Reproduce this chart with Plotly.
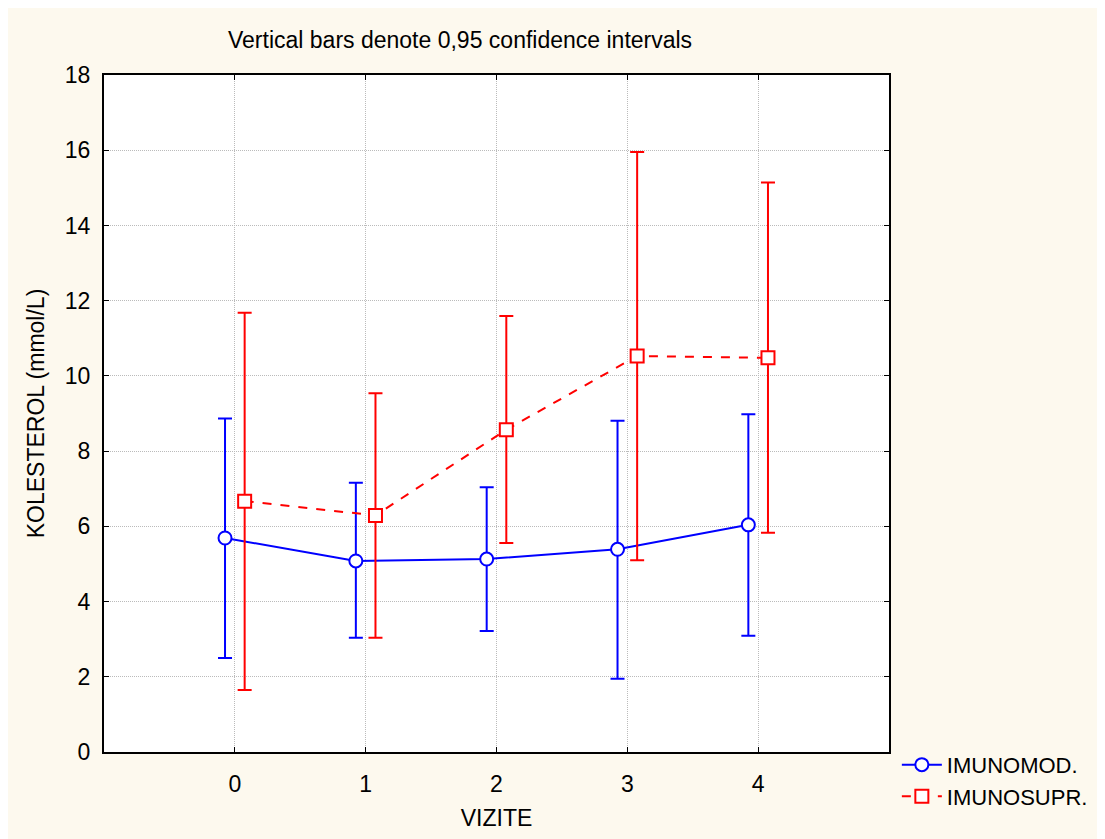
import plotly.graph_objects as go

visits = [0, 1, 2, 3, 4]
tick_labels = ["0", "1", "2", "3", "4"]

imunomod_mean = [5.69, 5.08, 5.13, 5.39, 6.04]
imunomod_upper = [8.87, 7.16, 7.04, 8.81, 8.98]
imunomod_lower = [2.50, 3.04, 3.22, 1.95, 3.09]

imunosupr_mean = [6.67, 6.29, 8.57, 10.53, 10.48]
imunosupr_upper = [11.68, 9.54, 11.59, 15.95, 15.14]
imunosupr_lower = [1.65, 3.04, 5.56, 5.10, 5.83]

OFFSET = 0.075
FONT = "Liberation Sans, Arial, sans-serif"
FS = 23

def series(name, mean, up, lo, color, symbol, dash, shift):
    return go.Scatter(
        x=[v + shift for v in visits], y=mean, name=name,
        mode="lines+markers",
        line=dict(color=color, width=2, dash=dash),
        marker=dict(symbol=symbol, size=13, color="white",
                    line=dict(color=color, width=2)),
        error_y=dict(type="data", symmetric=False,
                     array=[u - m for u, m in zip(up, mean)],
                     arrayminus=[m - l for m, l in zip(mean, lo)],
                     color=color, thickness=2, width=7),
    )

fig = go.Figure()
fig.add_trace(series("IMUNOMOD.", imunomod_mean, imunomod_upper, imunomod_lower,
                     "#0000FF", "circle", "solid", -OFFSET))
fig.add_trace(series("IMUNOSUPR.", imunosupr_mean, imunosupr_upper, imunosupr_lower,
                     "#FF0000", "square", "dash", OFFSET))

axis_common = dict(showline=True, linecolor="black", linewidth=2, mirror="ticks",
                   ticks="inside", ticklen=5, tickcolor="black", tickwidth=1,
                   showgrid=True, gridcolor="#BBBBBB", griddash="1px,1px", gridwidth=1,
                   zeroline=False, tickfont=dict(size=FS, color="black", family=FONT))

fig.update_layout(
    width=1097, height=831,
    paper_bgcolor="#FDF9EE", plot_bgcolor="white",
    margin=dict(l=96, r=216, t=67, b=87),
    font=dict(family=FONT, color="black"),
    xaxis=dict(range=[-1, 5], tickvals=visits, ticktext=tick_labels,
               ticklabelstandoff=10,
               title=dict(text="VIZITE", font=dict(size=FS), standoff=14), **axis_common),
    yaxis=dict(range=[0, 18], dtick=2, ticklabelstandoff=7,
               title=dict(text="KOLESTEROL (mmol/L)", font=dict(size=FS), standoff=14),
               **axis_common),
    legend=dict(x=1.01, y=0.012, xanchor="left", yanchor="top",
                bgcolor="rgba(0,0,0,0)", font=dict(size=22), tracegroupgap=0,
                itemwidth=40),
    showlegend=True,
    annotations=[dict(text="Vertical bars denote 0,95 confidence intervals",
                      xref="paper", yref="paper", x=0.4535, y=1.052,
                      showarrow=False, font=dict(size=FS), xanchor="center",
                      yanchor="middle")],
)

fig.write_html("out.html")
